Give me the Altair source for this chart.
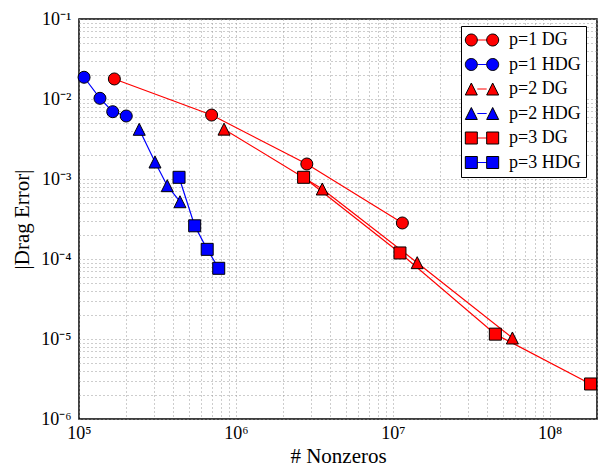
import altair as alt
import pandas as pd

# ---- data ----
series_names = ["p=1 DG", "p=1 HDG", "p=2 DG", "p=2 HDG", "p=3 DG", "p=3 HDG"]
series_colors = ["#ff0000", "#0000ff", "#ff0000", "#0000ff", "#ff0000", "#0000ff"]

p1_dg_x = [1.68e5, 7.0e5, 2.83e6, 1.15e7]
p1_dg_y = [1.78e-2, 6.3e-3, 1.54e-3, 2.82e-4]
p1_hdg_x = [1.077e5, 1.36e5, 1.64e5, 2.0e5]
p1_hdg_y = [1.87e-2, 1.02e-2, 6.94e-3, 6.13e-3]
p2_dg_x = [8.4e5, 3.55e6, 1.43e7, 5.78e7]
p2_dg_y = [4.2e-3, 7.5e-4, 9.0e-5, 1.03e-5]
p2_hdg_x = [2.42e5, 3.05e5, 3.65e5, 4.4e5]
p2_hdg_y = [4.18e-3, 1.63e-3, 8.25e-4, 5.2e-4]
p3_dg_x = [2.7e6, 1.11e7, 4.5e7, 1.82e8]
p3_dg_y = [1.05e-3, 1.19e-4, 1.15e-5, 2.74e-6]
p3_hdg_x = [4.34e5, 5.46e5, 6.56e5, 7.77e5]
p3_hdg_y = [1.05e-3, 2.6e-4, 1.32e-4, 7.65e-5]

x_exponents = [5, 6, 7, 8]
y_exponents = [-1, -2, -3, -4, -5, -6]
SUP = {"0": "⁰", "1": "¹", "2": "²", "3": "³", "4": "⁴", "5": "⁵",
       "6": "⁶", "7": "⁷", "8": "⁸", "9": "⁹", "-": "⁻"}

# line-legend keys get trailing (invisible) spaces: keeps that legend separate
# and widens its frame a little
PAD = "\u00a0\u00a0\u00a0"
line_names = [n + PAD for n in series_names]

# ---- build table ----
rows = []
for name, p, xs, ys in [
    ("p=1 DG", 1, p1_dg_x, p1_dg_y), ("p=1 HDG", 1, p1_hdg_x, p1_hdg_y),
    ("p=2 DG", 2, p2_dg_x, p2_dg_y), ("p=2 HDG", 2, p2_hdg_x, p2_hdg_y),
    ("p=3 DG", 3, p3_dg_x, p3_dg_y), ("p=3 HDG", 3, p3_hdg_x, p3_hdg_y),
]:
    for xv, yv in zip(xs, ys):
        rows.append({"nnz": xv, "err": yv, "series": name, "lser": name + PAD,
                     "leg": name, "p": p})
df = pd.DataFrame(rows)


def sup(e):
    return "10" + "".join(SUP[c] for c in str(e))


def label_expr(exps):
    expr = "''"
    for e in exps:
        expr = f"datum.value == {float(f'1e{e}')!r} ? '{sup(e)}' : ({expr})"
    return expr


x_grid = [float(f"{k}e{e}") for e in range(5, 9) for k in range(1, 10) if float(f"{k}e{e}") <= 2e8]
y_grid = [float(f"{k}e{e}") for e in range(-6, -1 + 1) for k in range(1, 10) if float(f"{k}e{e}") <= 1e-1]

FONT = "Liberation Serif"

x_enc = alt.X("nnz:Q", scale=alt.Scale(type="log", domain=[1e5, 2e8], nice=False),
              axis=alt.Axis(values=x_grid, labelExpr=label_expr(x_exponents),
                            title="# Nonzeros", labelPadding=5, titlePadding=3,
                            labelOverlap=False, labelFlush=False, labelBound=False))
y_enc = alt.Y("err:Q", scale=alt.Scale(type="log", domain=[1e-6, 1e-1], nice=False),
              axis=alt.Axis(values=y_grid, labelExpr=label_expr(y_exponents),
                            title="|Drag Error|", labelPadding=8, titlePadding=8,
                            labelOverlap=False, labelFlush=False, labelBound=False))

base = alt.Chart(df)

leg_common = dict(orient="none", legendX=382, legendY=7, title=None,
                  symbolSize=144, symbolStrokeWidth=1, padding=5, rowPadding=6.5,
                  symbolOffset=7, labelOffset=18, labelFont=FONT, labelFontSize=18,
                  labelColor="black")

lines = base.mark_line(strokeWidth=1.2).encode(
    x=x_enc, y=y_enc,
    stroke=alt.Stroke("lser:N", scale=alt.Scale(domain=line_names, range=series_colors),
                      legend=alt.Legend(symbolType="M-0.78,0L0.78,0", strokeColor="black",
                                        fillColor="white", zindex=1, labelOpacity=0,
                                        **leg_common)),
)

legB = alt.Legend(zindex=2, symbolStrokeColor="black", **leg_common)
fill_scale = alt.Scale(domain=series_names, range=series_colors)

shape_for_p = {1: "circle", 2: "M0,-1L-1,1L1,1Z", 3: "square"}
point_layers = []
for p in [1, 2, 3]:
    point_layers.append(
        base.transform_filter(alt.datum.p == p).mark_point(
            filled=True, shape=shape_for_p[p], size=144, strokeWidth=1, opacity=1
        ).encode(
            x="nnz:Q", y="err:Q",
            fill=alt.Fill("series:N", scale=fill_scale, legend=legB),
            stroke=alt.value("#000000"),
        )
    )

pair_circle = "M-2.78,0A1,1,0,1,0,-0.78,0A1,1,0,1,0,-2.78,0Z M0.78,0A1,1,0,1,0,2.78,0A1,1,0,1,0,0.78,0Z"
pair_tri = "M-1.78,-1L-2.78,1L-0.78,1Z M1.78,-1L0.78,1L2.78,1Z"
pair_sq = "M-2.78,-1H-0.78V1H-2.78Z M0.78,-1H2.78V1H0.78Z"
pair_shapes = [pair_circle, pair_circle, pair_tri, pair_tri, pair_sq, pair_sq]

legend_layer = base.transform_filter("false").mark_point(
    filled=True, size=144, strokeWidth=1, opacity=1
).encode(
    x="nnz:Q", y="err:Q",
    fill=alt.Fill("leg:N", scale=fill_scale, legend=legB),
    shape=alt.Shape("leg:N", scale=alt.Scale(domain=series_names, range=pair_shapes), legend=legB),
    stroke=alt.value("#000000"),
)

chart = alt.layer(lines, *point_layers, legend_layer).properties(
    width=518, height=400,
    autosize=alt.AutoSizeParams(type="none"),
    padding={"left": 79, "top": 19, "right": 10, "bottom": 51},
    background="white",
).configure_view(
    stroke="black", strokeWidth=1.5
).configure_axis(
    domain=False, ticks=False, grid=True, gridColor="#9a9a9a", gridDash=[1, 3], gridWidth=1,
    labelFont=FONT, labelFontSize=18, labelColor="black",
    titleFont=FONT, titleFontSize=21, titleFontWeight="normal", titleColor="black",
)

chart.save("out.html", embed_options={"renderer": "svg", "actions": False})
